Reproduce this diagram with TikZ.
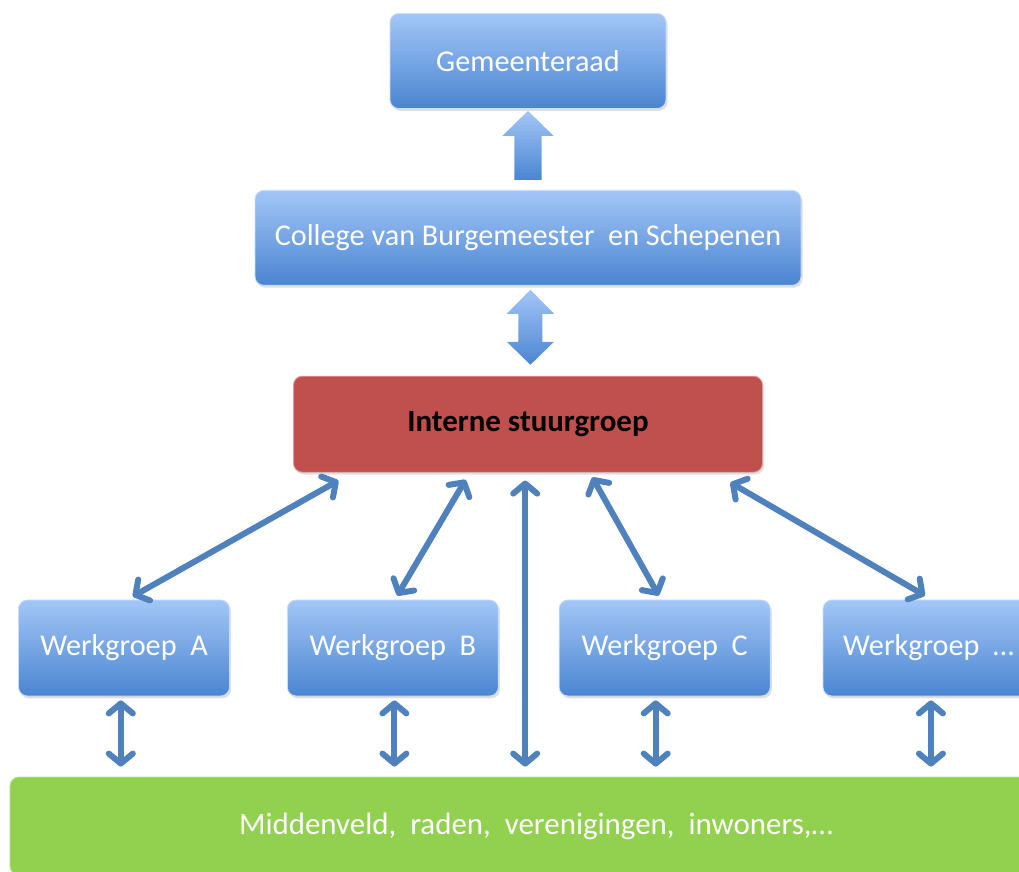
\documentclass[tikz,border=0pt]{standalone}
\usepackage{fontspec}
\setmainfont{Carlito}
\usetikzlibrary{positioning, calc, arrows.meta, shadows}

\definecolor{blokboven}{HTML}{A3C6F7}
\definecolor{blokonder}{HTML}{4A85D1}
\definecolor{stuurrood}{HTML}{C0504D}
\definecolor{veldgroen}{HTML}{92D050}
\definecolor{lijnblauw}{HTML}{4F81BD}

\tikzstyle{orgaan} = [
    rectangle, rounded corners=0.22cm,
    top color=blokboven, bottom color=blokonder,
    draw=blokboven!60!white, line width=0.6pt,
    drop shadow={shadow xshift=0.04cm, shadow yshift=-0.06cm, opacity=0.25},
    text=white, font=\fontsize{21.5}{25}\selectfont,
    minimum height=2.4cm, text centered
]
\tikzstyle{stuur} = [
    rectangle, rounded corners=0.22cm,
    fill=stuurrood, draw=stuurrood!55!white, line width=0.6pt,
    drop shadow={shadow xshift=0.04cm, shadow yshift=-0.06cm, opacity=0.25},
    text=black, font=\fontsize{22}{26}\selectfont\bfseries,
    minimum height=2.4cm, text centered
]
\tikzstyle{veld} = [
    rectangle, rounded corners=0.22cm,
    fill=veldgroen, draw=veldgroen!60!white, line width=0.6pt,
    text=white, font=\fontsize{22}{26}\selectfont,
    minimum height=2.45cm, text centered
]
\tikzstyle{blokpijl} = [
    top color=blokboven, bottom color=blokonder, draw=none
]
\tikzstyle{koppeling} = [
    draw=lijnblauw, line width=0.15cm,
    >={Straight Barb[length=0.25cm, width=0.6cm, round]}, <->
]

\begin{document}
\begin{tikzpicture}
        \useasboundingbox (0,0) rectangle (25.475,-21.8);
        \clip (0,0) rectangle (25.475,-21.8);

        % Bestuur
        \node[orgaan, minimum width=6.9cm, minimum height=2.375cm] (gemeenteraad) at (13.2,-1.525) {Gemeenteraad};
        \node[orgaan, minimum width=13.65cm, minimum height=2.375cm] (college) [below=2.025cm of gemeenteraad] {College van Burgemeester\ \ en Schepenen};
        \node[stuur, minimum width=11.725cm] (stuurgroep) [below=2.25cm of college] {Interne stuurgroep};

        % Werkgroepen
        \node[orgaan, minimum width=5.275cm] (wgA) at (3.1,-16.2) {Werkgroep\ \ A};
        \node[orgaan, minimum width=5.275cm] (wgB) [right=1.425cm of wgA] {Werkgroep\ \ B};
        \node[orgaan, minimum width=5.275cm] (wgC) [right=1.5cm of wgB] {Werkgroep\ \ C};
        \node[orgaan, minimum width=5.275cm] (wgD) [right=1.3cm of wgC] {Werkgroep\ \ …};

        % Middenveld
        \node[veld, minimum width=26.3cm] (groen) at (13.4,-20.65) {Middenveld,\ \ raden,\ \ verenigingen,\ \ inwoners,…};

        % Blokpijl college -> gemeenteraad
        \coordinate (pijlvoet) at ($(college.north)+(0,0.25)$);
        \coordinate (pijlpunt) at ($(gemeenteraad.south)+(0,-0.05)$);
        \shade[blokpijl] let \p1=(pijlvoet), \p2=(pijlpunt) in
            (\x1-0.34cm,\y1) -- (\x1-0.34cm,\y2-0.625cm) -- (\x1-0.64cm,\y2-0.625cm) -- (\x2,\y2)
            -- (\x1+0.64cm,\y2-0.625cm) -- (\x1+0.34cm,\y2-0.625cm) -- (\x1+0.34cm,\y1) -- cycle;

        % Dubbele blokpijl college <-> stuurgroep
        \coordinate (dpboven) at ($(college.south)+(0.06,-0.1)$);
        \coordinate (dponder) at ($(stuurgroep.north)+(0.06,0.275)$);
        \shade[blokpijl] let \p1=(dpboven), \p2=(dponder) in
            (\x1,\y1) -- (\x1+0.59cm,\y1-0.6cm) -- (\x1+0.3cm,\y1-0.6cm) -- (\x1+0.3cm,\y2+0.575cm)
            -- (\x1+0.59cm,\y2+0.575cm) -- (\x2,\y2) -- (\x1-0.59cm,\y2+0.575cm) -- (\x1-0.3cm,\y2+0.575cm)
            -- (\x1-0.3cm,\y1-0.6cm) -- (\x1-0.59cm,\y1-0.6cm) -- cycle;

        % Eindpunten onder de stuurgroep
        \coordinate (sA) at ($(stuurgroep.south)+(-4.74,-0.2)$);
        \coordinate (sB) at ($(stuurgroep.south)+(-1.56,-0.18)$);
        \coordinate (sM) at ($(stuurgroep.south)+(-0.07,-0.2)$);
        \coordinate (sC) at ($(stuurgroep.south)+(1.61,-0.12)$);
        \coordinate (sD) at ($(stuurgroep.south)+(5.06,-0.25)$);
        % Eindpunten boven de werkgroepen
        \coordinate (wA) at ($(wgA.north)+(0.22,0.08)$);
        \coordinate (wB) at ($(wgB.north)+(0.11,0.1)$);
        \coordinate (wC) at ($(wgC.north)+(-0.15,0.1)$);
        \coordinate (wD) at ($(wgD.north)+(-0.09,0.1)$);
        \coordinate (gM) at ($(sM |- groen.north)+(0,0.25)$);

        \draw[koppeling] (sA) -- (wA);
        \draw[koppeling] (sB) -- (wB);
        \draw[koppeling] (sM) -- (gM);
        \draw[koppeling] (sC) -- (wC);
        \draw[koppeling] (sD) -- (wD);

        % Werkgroepen <-> middenveld
        \coordinate (aA) at ($(wgA.south)+(-0.08,-0.1)$);
        \coordinate (aB) at ($(wgB.south)+(0.04,-0.1)$);
        \coordinate (aC) at ($(wgC.south)+(-0.225,-0.1)$);
        \coordinate (aD) at ($(wgD.south)+(0.06,-0.1)$);
        \coordinate (gA) at ($(aA |- groen.north)+(0,0.25)$);
        \coordinate (gB) at ($(aB |- groen.north)+(0,0.25)$);
        \coordinate (gC) at ($(aC |- groen.north)+(0,0.25)$);
        \coordinate (gD) at ($(aD |- groen.north)+(0,0.25)$);

        \draw[koppeling] (aA) -- (gA);
        \draw[koppeling] (aB) -- (gB);
        \draw[koppeling] (aC) -- (gC);
        \draw[koppeling] (aD) -- (gD);

    \end{tikzpicture}
\end{document}
